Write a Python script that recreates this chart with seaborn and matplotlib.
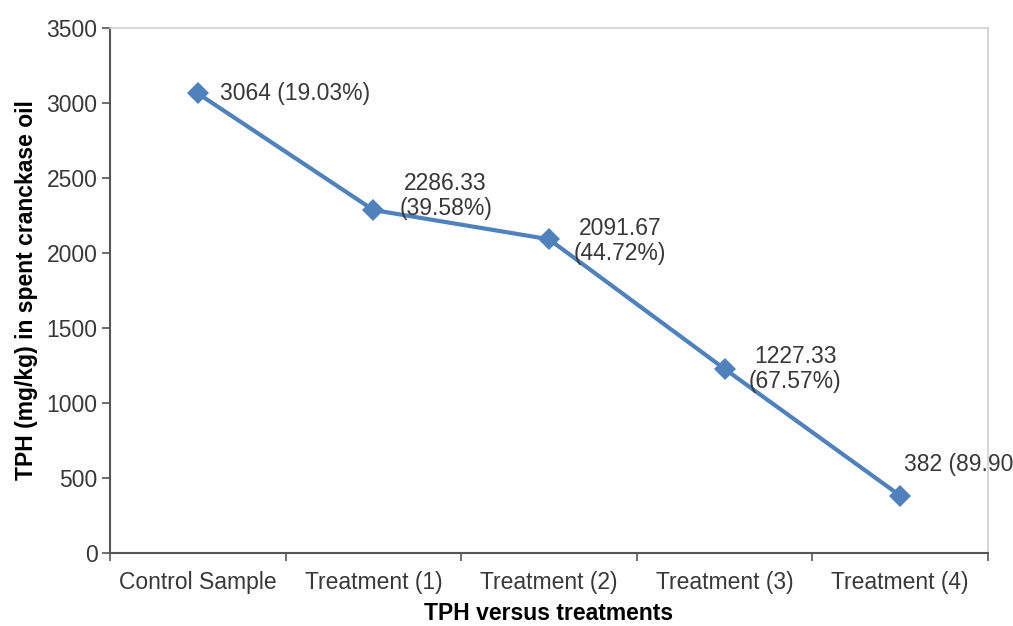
import pandas as pd
import seaborn as sns
import matplotlib.pyplot as plt

sns.set_theme(style="white")
plt.rcParams['font.family'] = ['Liberation Sans', 'DejaVu Sans']

treatments = ["Control Sample", "Treatment (1)", "Treatment (2)", "Treatment (3)", "Treatment (4)"]
tph = [3064, 2286.33, 2091.67, 1227.33, 382]
labels = ["3064 (19.03%)", "2286.33\n(39.58%)", "2091.67\n(44.72%)", "1227.33\n(67.57%)", "382 (89.90%)"]
# label offsets (points) as Excel placed them
offsets = [(16, 0), (52, 10), (51, -1), (51, 0), (3, 14)]

df = pd.DataFrame({"treatment": treatments, "tph": tph})

fig = plt.figure(figsize=(10.13, 6.26), dpi=100)
ax = fig.add_axes([0.1086, 0.1166, 0.8667, 0.8387])

sns.lineplot(data=df, x="treatment", y="tph", ax=ax, color="#4F81BD",
             linewidth=3, marker="D", markersize=11, markeredgewidth=0, sort=False)

for i, (lab, off) in enumerate(zip(labels, offsets)):
    ha = "center" if "\n" in lab else "left"
    va = "bottom" if i == 4 else "center"
    ax.annotate(lab, (i, tph[i]), xytext=off, textcoords="offset points",
                ha=ha, va=va, fontsize=16.5, color="#383838",
                multialignment="center", annotation_clip=False, linespacing=1.1)

ax.set_ylim(0, 3500)
ax.set_yticks(range(0, 3501, 500))
ax.set_xlim(-0.5, 4.5)
ax.set_xticks([i - 0.5 for i in range(6)])
ax.set_xticklabels([])
ax.set_xticks(range(5), minor=True)
ax.set_xticklabels(treatments, minor=True)
ax.tick_params(axis="x", which="minor", length=0, pad=13, labelsize=16.5, labelcolor="#383838")
ax.tick_params(axis="x", which="major", length=6, width=1.2, color="#555555", direction="out", bottom=True)
ax.tick_params(axis="y", length=6, width=1.2, color="#555555", direction="out", left=True,
               labelsize=16.5, labelcolor="#383838", pad=3)

for side in ["left", "bottom"]:
    ax.spines[side].set_color("#555555")
    ax.spines[side].set_linewidth(1.5)
for side in ["top", "right"]:
    ax.spines[side].set_color("#D0D0D0")
    ax.spines[side].set_linewidth(1.2)

ax.set_xlabel("TPH versus treatments", fontsize=16.5, fontweight="bold", color="black", labelpad=6)
ax.set_ylabel("TPH (mg/kg) in spent cranckase oil", fontsize=16.5, fontweight="bold", color="black", labelpad=6)

fig.savefig("out.png", dpi=100)
